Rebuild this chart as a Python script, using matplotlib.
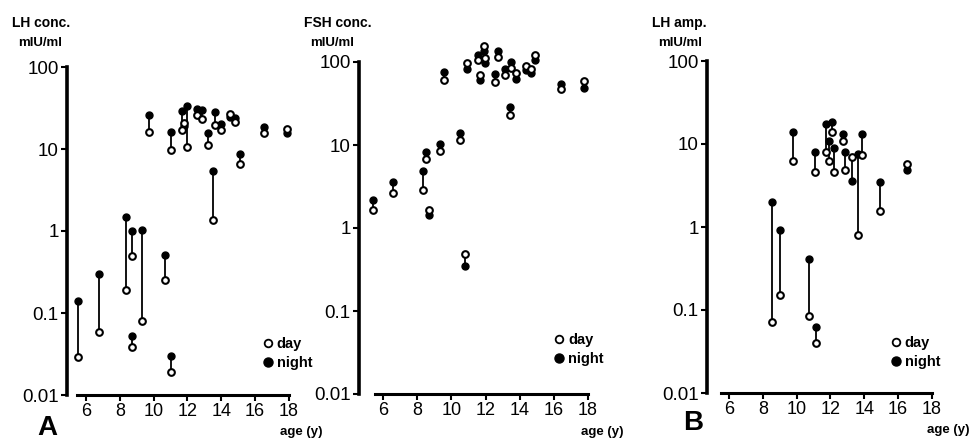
import matplotlib.pyplot as plt
from matplotlib.lines import Line2D

plt.rcParams['font.family'] = ['Liberation Sans', 'DejaVu Sans']

# LH concentration (panel A)
lh_age = [5.55, 6.8, 8.35, 8.7, 8.7, 9.33, 9.75, 10.65, 11.0, 11.03, 11.65, 11.8, 12.0,
          12.55, 12.85, 13.2, 13.5, 13.65, 14.0, 14.5, 14.8, 15.1, 16.5, 17.9]
lh_night = [0.14, 0.30, 1.5, 1.0, 0.052, 1.03, 26, 0.51, 16, 0.030, 29, 19, 33,
            31, 30, 15.5, 5.4, 28.5, 20, 24.7, 23.7, 8.6, 18.4, 15.5]
lh_day = [0.029, 0.059, 0.19, 0.50, 0.039, 0.08, 16, 0.25, 9.7, 0.019, 17, 21, 10.5,
          26, 23, 11.2, 1.36, 19.6, 17, 26.7, 21.6, 6.5, 15.8, 17.5]

# FSH concentration
fsh_age = [5.38, 6.59, 8.34, 8.5, 8.69, 9.32, 9.55, 10.53, 10.82, 10.92, 11.56, 11.66,
           11.91, 11.95, 12.54, 12.73, 13.13, 13.45, 13.52, 13.81, 14.36, 14.69, 14.88,
           16.44, 17.8]
fsh_night = [2.16, 3.58, 4.86, 8.2, 1.42, 10.2, 75, 14, 0.35, 83, 123, 60,
             135, 96, 72, 134, 83, 29, 100, 63, 79, 74, 105,
             55, 48]
fsh_day = [1.63, 2.64, 2.9, 6.7, 1.67, 8.4, 61, 11.6, 0.48, 98, 105, 69,
           154, 112, 57, 115, 70, 23, 85, 74, 90, 83, 123,
           47, 59]

# LH amplitude (panel B)
amp_age = [8.52, 9.0, 9.79, 10.74, 11.11, 11.13, 11.72, 11.92, 12.1, 12.22, 12.75,
           12.88, 13.28, 13.65, 13.87, 14.91, 16.52]
amp_night = [2.0, 0.91, 14, 0.415, 8.1, 0.062, 17.6, 10.9, 18.4, 9.0, 13.3,
             8.0, 3.55, 7.6, 13.3, 3.5, 4.8]
amp_day = [0.072, 0.15, 6.2, 0.085, 4.6, 0.040, 8.1, 6.3, 14, 4.6, 10.9,
           4.8, 7.0, 0.81, 7.3, 1.54, 5.8]

y_ticks = [0.01, 0.1, 1, 10, 100]
y_labels = ['0.01', '0.1', '1', '10', '100']
x_ticks = [6, 8, 10, 12, 14, 16, 18]

W, H = 974, 443


def px_box(left, right, top, bottom):
    return [left / W, 1 - bottom / H, (right - left) / W, (bottom - top) / H]


panels = [
    dict(age=lh_age, night=lh_night, day=lh_day, title='LH conc.', box=px_box(67, 294, 67, 395),
         xmin=4.88, letter='A', letter_pos=(-0.088, -0.10), xlab_pos=(1.03, -0.113),
         leg_pos=(0.827, 0.127)),
    dict(age=fsh_age, night=fsh_night, day=fsh_day, title='FSH conc.', box=px_box(359, 593, 62, 394),
         xmin=4.58, letter=None, letter_pos=None, xlab_pos=(1.04, -0.114),
         leg_pos=(0.80, 0.134)),
    dict(age=amp_age, night=amp_night, day=amp_day, title='LH amp.', box=px_box(707, 937, 61, 393),
         xmin=4.70, letter='B', letter_pos=(-0.061, -0.09), xlab_pos=(1.05, -0.11),
         leg_pos=(0.765, 0.122)),
]

fig = plt.figure(figsize=(W / 100, H / 100), dpi=100)

for p in panels:
    ax = fig.add_axes(p['box'])
    ax.vlines(p['age'], p['day'], p['night'], colors='black', linewidth=1.3, zorder=2,
              clip_on=False)
    ax.plot(p['age'], p['night'], 'o', color='black', markersize=5, zorder=3, clip_on=False)
    ax.plot(p['age'], p['day'], 'o', markerfacecolor='white', markeredgecolor='black',
            markeredgewidth=1.5, markersize=4.8, zorder=4, clip_on=False)
    ax.set_yscale('log')
    ax.set_ylim(0.01, 100)
    ax.set_xlim(p['xmin'], 18.3)
    ax.set_yticks(y_ticks)
    ax.set_yticklabels(y_labels)
    ax.minorticks_off()
    ax.set_xticks(x_ticks)
    ax.tick_params(axis='both', width=1.5, length=4, pad=2)
    ax.tick_params(axis='x', labelsize=13)
    ax.tick_params(axis='y', labelsize=13.5)
    for s in ['top', 'right']:
        ax.spines[s].set_visible(False)
    ax.spines['left'].set_linewidth(2.6)
    ax.spines['bottom'].set_linewidth(2.2)
    ax.spines['bottom'].set_bounds(5.5, 18)

    # axis titles above the y axis
    x0 = p['box'][0]
    fig.text(x0 - 55 / W, 1 - 23 / H, p['title'], fontsize=10, fontweight='bold',
             va='center', ha='left')
    fig.text(x0 - 49 / W, 1 - 43 / H, 'mIU/ml', fontsize=9.5, fontweight='bold',
             va='center', ha='left')
    ax.text(p['xlab_pos'][0], p['xlab_pos'][1], 'age (y)', transform=ax.transAxes,
            fontsize=9.5, fontweight='bold', ha='center', va='center')
    if p['letter']:
        ax.text(p['letter_pos'][0], p['letter_pos'][1], p['letter'], transform=ax.transAxes,
                fontsize=20, fontweight='bold', ha='center', va='center')

    handles = [
        Line2D([], [], marker='o', linestyle='none', markerfacecolor='white',
               markeredgecolor='black', markeredgewidth=1.3, markersize=5.5),
        Line2D([], [], marker='o', linestyle='none', color='black', markersize=6.5),
    ]
    ax.legend(handles, ['day', 'night'], loc='center left', bbox_to_anchor=p['leg_pos'],
              frameon=False, handletextpad=0.1, handlelength=1.0, labelspacing=0.35,
              borderaxespad=0, prop={'weight': 'bold', 'size': 10.5})

fig.savefig('out.png', dpi=100)
